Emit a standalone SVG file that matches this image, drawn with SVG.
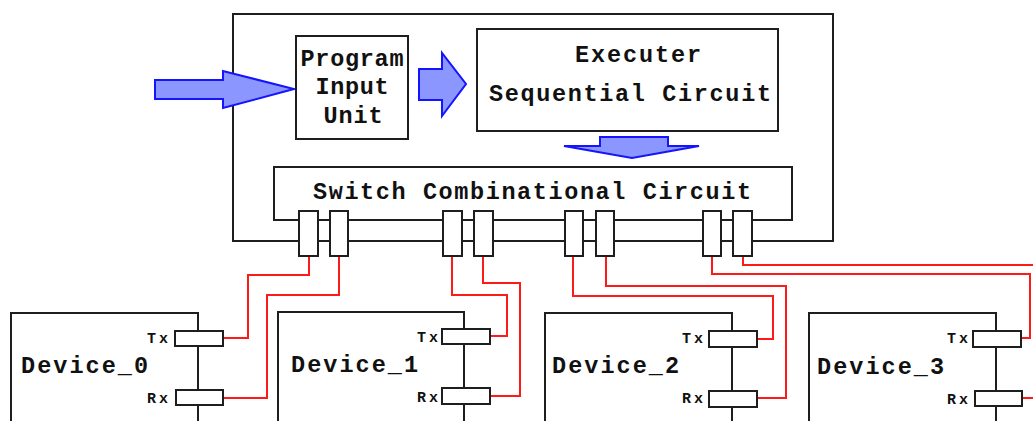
<svg xmlns="http://www.w3.org/2000/svg" width="1033" height="421" viewBox="0 0 1033 421">
<style>
.box{fill:#fff;stroke:#1e1e1e;stroke-width:2}
.frame{fill:none;stroke:#1e1e1e;stroke-width:2}
.port{fill:#fff;stroke:#1e1e1e;stroke-width:2}
.arrow{fill:#8c96ff;stroke:#1414ff;stroke-width:2;stroke-linejoin:miter}
.wire{fill:none;stroke:#ff1a1a;stroke-width:2}
.t{font-family:"Liberation Mono","Courier New",monospace;font-weight:bold;fill:#111}
.big{font-size:23.5px}
.sm{font-size:15px}
</style>
<rect width="1033" height="421" fill="#fff"/>

<g id="controller">
  <rect class="frame" x="233" y="14" width="600" height="227"/>
</g>

<g id="input-arrow">
  <polygon class="arrow" points="155,80 223,80 223,71 294,89 223,108 223,99 155,99"/>
</g>

<g id="program-input-unit">
  <rect class="box" x="296" y="36" width="112" height="103"/>
  <text class="t big" x="352" y="66" text-anchor="middle" textLength="103" lengthAdjust="spacing">Program</text>
  <text class="t big" x="352" y="94" text-anchor="middle" textLength="73" lengthAdjust="spacing">Input</text>
  <text class="t big" x="353" y="123" text-anchor="middle" textLength="59" lengthAdjust="spacing">Unit</text>
</g>

<g id="pi-to-exec-arrow">
  <polygon class="arrow" points="419,69 442,69 442,53 466,84 442,116 442,100 419,100"/>
</g>

<g id="executer">
  <rect class="box" x="477" y="29" width="301" height="102"/>
  <text class="t big" x="638" y="62" text-anchor="middle" textLength="126" lengthAdjust="spacing">Executer</text>
  <text class="t big" x="630" y="101" text-anchor="middle" textLength="282" lengthAdjust="spacing">Sequential Circuit</text>
</g>

<g id="exec-to-switch-arrow">
  <polygon class="arrow" points="600,137 668,137 668,146 699,146 632,158 564,146 600,146"/>
</g>

<g id="switch">
  <rect class="box" x="274" y="167" width="518" height="53"/>
  <text class="t big" x="532" y="199" text-anchor="middle" textLength="438" lengthAdjust="spacing">Switch Combinational Circuit</text>
  <line class="frame" x1="233" y1="241" x2="833" y2="241"/>
</g>

<g id="connectors">
  <path class="wire" d="M309,256 V275 H248 V338 H223"/>
  <path class="wire" d="M339,256 V295 H267 V398 H223"/>
  <path class="wire" d="M452,256 V295 H507 V336 H490"/>
  <path class="wire" d="M483,256 V283 H520 V396 H490"/>
  <path class="wire" d="M573,256 V296 H773 V339 H757"/>
  <path class="wire" d="M606,256 V286 H786 V398 H757"/>
  <path class="wire" d="M712,256 V274 H1030 V338 H1021"/>
  <path class="wire" d="M743,256 V265 H1040"/>
  <path class="wire" d="M1022,398 H1040"/>
</g>

<g id="switch-ports">
  <rect class="port" x="299" y="211" width="19" height="45"/>
  <rect class="port" x="330" y="211" width="18" height="45"/>
  <rect class="port" x="443" y="211" width="19" height="45"/>
  <rect class="port" x="474" y="211" width="19" height="45"/>
  <rect class="port" x="565" y="211" width="18" height="45"/>
  <rect class="port" x="596" y="211" width="18" height="45"/>
  <rect class="port" x="703" y="211" width="18" height="45"/>
  <rect class="port" x="733" y="211" width="19" height="45"/>
</g>

<g id="device0">
  <rect class="box" x="11" y="313" width="187" height="160"/>
  <text class="t big" x="21" y="373" textLength="127" lengthAdjust="spacing">Device_0</text>
  <rect class="port" x="175" y="331" width="48" height="15"/>
  <rect class="port" x="176" y="390" width="47" height="15"/>
  <text class="t sm" x="168" y="343" text-anchor="end" textLength="21" lengthAdjust="spacing">Tx</text>
  <text class="t sm" x="168" y="403" text-anchor="end" textLength="21" lengthAdjust="spacing">Rx</text>
</g>

<g id="device1">
  <rect class="box" x="278" y="312" width="186" height="160"/>
  <text class="t big" x="291" y="372" textLength="127" lengthAdjust="spacing">Device_1</text>
  <rect class="port" x="442" y="329" width="48" height="15"/>
  <rect class="port" x="442" y="388" width="48" height="16"/>
  <text class="t sm" x="438" y="342" text-anchor="end" textLength="21" lengthAdjust="spacing">Tx</text>
  <text class="t sm" x="438" y="402" text-anchor="end" textLength="21" lengthAdjust="spacing">Rx</text>
</g>

<g id="device2">
  <rect class="box" x="545" y="313" width="187" height="160"/>
  <text class="t big" x="552" y="373" textLength="127" lengthAdjust="spacing">Device_2</text>
  <rect class="port" x="709" y="331" width="48" height="16"/>
  <rect class="port" x="709" y="391" width="48" height="16"/>
  <text class="t sm" x="703" y="343" text-anchor="end" textLength="21" lengthAdjust="spacing">Tx</text>
  <text class="t sm" x="703" y="403" text-anchor="end" textLength="21" lengthAdjust="spacing">Rx</text>
</g>

<g id="device3">
  <rect class="box" x="809" y="313" width="187" height="160"/>
  <text class="t big" x="817" y="374" textLength="127" lengthAdjust="spacing">Device_3</text>
  <rect class="port" x="973" y="331" width="48" height="16"/>
  <rect class="port" x="975" y="391" width="47" height="15"/>
  <text class="t sm" x="968" y="343" text-anchor="end" textLength="21" lengthAdjust="spacing">Tx</text>
  <text class="t sm" x="968" y="404" text-anchor="end" textLength="21" lengthAdjust="spacing">Rx</text>
</g>
</svg>
